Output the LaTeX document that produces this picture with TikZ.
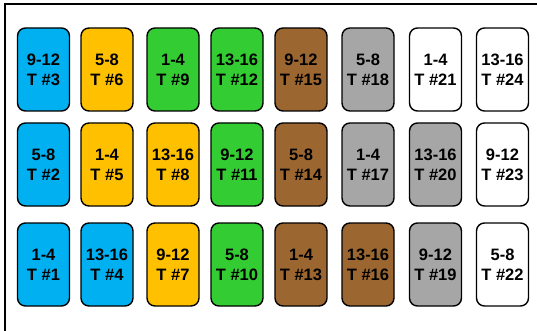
\documentclass[tikz,border=0pt]{standalone}
\usepackage{fontspec}
\setmainfont{Liberation Sans}
\definecolor{cblue}{HTML}{00B0F0}
\definecolor{cyellow}{HTML}{FFC000}
\definecolor{cgreen}{HTML}{33CC33}
\definecolor{cbrown}{HTML}{9C6631}
\definecolor{cgray}{HTML}{A6A6A6}
\definecolor{cwhite}{HTML}{FFFFFF}
\begin{document}
\begin{tikzpicture}[x=1pt,y=-1pt,
  tbox/.style={draw=black,line width=1.4pt,rounded corners=8pt,minimum width=52pt,minimum height=83pt,
    inner sep=0pt,align=center,font=\fontsize{16.5}{20}\selectfont\bfseries}]
\useasboundingbox (0,0) rectangle (537,331);
\fill[white] (0,0) rectangle (537,331);
\coordinate (bl) at (5,331);
\coordinate (tl) at (5,4);
\coordinate (tr) at (537,4);
\draw[line width=2pt,line cap=rect] (bl) -- (tl) -- (tr);
\foreach \i/\xc in {1/43.5,2/107,3/173,4/237,5/301,6/368,7/435.5,8/502.5}{
  \coordinate (c\i) at (\xc,0);
}
\foreach \col/\row/\yc/\clr/\rng/\num in {
 1/1/69.5/cblue/9-12/3, 1/2/164.5/cblue/5-8/2, 1/3/264.5/cblue/1-4/1,
 2/1/69.5/cyellow/5-8/6, 2/2/164.5/cyellow/1-4/5, 2/3/264.5/cblue/13-16/4,
 3/1/69.5/cgreen/1-4/9, 3/2/164.5/cyellow/13-16/8, 3/3/264.5/cyellow/9-12/7,
 4/1/69.5/cgreen/13-16/12, 4/2/164.5/cgreen/9-12/11, 4/3/264.5/cgreen/5-8/10,
 5/1/69.5/cbrown/9-12/15, 5/2/164.5/cbrown/5-8/14, 5/3/264.5/cbrown/1-4/13,
 6/1/69.5/cgray/5-8/18, 6/2/164.5/cgray/1-4/17, 6/3/264.5/cbrown/13-16/16,
 7/1/69.5/cwhite/1-4/21, 7/2/164.5/cgray/13-16/20, 7/3/264.5/cgray/9-12/19,
 8/1/69.5/cwhite/13-16/24, 8/2/164.5/cwhite/9-12/23, 8/3/264.5/cwhite/5-8/22}{
  \node[tbox,fill=\clr] (t\num) at (c\col |- 0,\yc) {\rng\\T \#\num};
}
\end{tikzpicture}
\end{document}
